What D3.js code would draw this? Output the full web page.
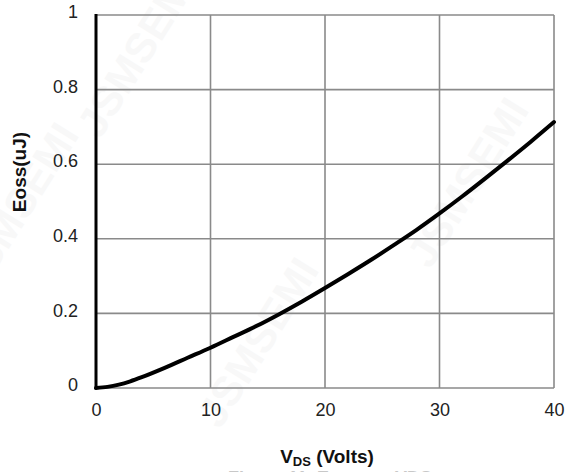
<!DOCTYPE html>
<meta charset="utf-8">
<head>
  <style>
    body { margin: 0; background: #fff; font-family: "Liberation Sans", Arial, sans-serif; }
    .tick text { font-size: 18px; fill: #222; }
    .axis-title { font-weight: bold; font-size: 19px; fill: #111; }
    .mark { font-size: 42px; font-weight: bold; fill: #000; opacity: 0.022; }
  </style>
  <script src="https://cdn.jsdelivr.net/npm/d3@7"></script>
</head>
<body>
  <div id="viz"></div>
</body>
<script>
// Eoss curve
var vds  = [0, 1, 2, 3, 4, 6, 8, 10, 12, 14, 16, 18, 20, 22, 24, 26, 28, 30, 32, 34, 36, 38, 40];
var eoss = [0, 0.003, 0.009, 0.018, 0.029, 0.054, 0.081, 0.108, 0.137, 0.166, 0.198, 0.232, 0.268,
            0.305, 0.343, 0.383, 0.424, 0.468, 0.514, 0.562, 0.611, 0.661, 0.713];
var xTicks = [0, 10, 20, 30, 40];
var yTicks = [0, 0.2, 0.4, 0.6, 0.8, 1];

var W = 565, H = 472;
var pLeft = 96, pRight = 554, pTop = 15, pBottom = 388;

var svg = d3.select("#viz").append("svg")
    .attr("width", W)
    .attr("height", H);

var x = d3.scaleLinear().domain([0, 40]).range([pLeft, pRight]);
var y = d3.scaleLinear().domain([0, 1]).range([pBottom, pTop]);

/* watermark */
[[270, 350], [480, 190], [150, 60], [30, 215]].forEach(function(p) {
  svg.append("text")
    .attr("class", "mark")
    .attr("text-anchor", "middle")
    .attr("transform", "translate(" + p[0] + "," + p[1] + ") rotate(-58)")
    .text("JSMSEMI");
});

/* grid */
svg.selectAll(".vgrid")
  .data(xTicks)
  .enter()
  .append("line")
    .attr("x1", x).attr("x2", x)
    .attr("y1", pTop).attr("y2", pBottom)
    .attr("stroke", "#8a8a8a")
    .attr("stroke-width", 1.6);

svg.selectAll(".hgrid")
  .data(yTicks)
  .enter()
  .append("line")
    .attr("x1", pLeft).attr("x2", pRight)
    .attr("y1", y).attr("y2", y)
    .attr("stroke", "#8a8a8a")
    .attr("stroke-width", 1.6);

/* axes (labels only) */
var xAxis = svg.append("g")
    .attr("transform", "translate(0," + pBottom + ")")
    .call(d3.axisBottom(x).tickValues(xTicks).tickSize(0).tickPadding(15).tickFormat(d3.format("d")));
xAxis.select(".domain").remove();

var yAxis = svg.append("g")
    .attr("transform", "translate(" + pLeft + ",0)")
    .call(d3.axisLeft(y).tickValues(yTicks).tickSize(0).tickPadding(18)
      .tickFormat(function(d) { return d === 0 || d === 1 ? d : d3.format(".1f")(d); }));
yAxis.select(".domain").remove();
yAxis.selectAll("text").attr("dy", "0.15em");

/* thick left axis */
svg.append("line")
  .attr("x1", pLeft).attr("x2", pLeft)
  .attr("y1", pTop - 1).attr("y2", pBottom + 1)
  .attr("stroke", "#000")
  .attr("stroke-width", 3);

/* curve */
var line = d3.line()
  .x(function(d, i) { return x(vds[i]); })
  .y(function(d, i) { return y(eoss[i]); })
  .curve(d3.curveMonotoneX);

svg.append("path")
  .datum(vds)
  .attr("d", line)
  .attr("fill", "none")
  .attr("stroke", "#000")
  .attr("stroke-width", 4)
  .attr("stroke-linecap", "round");

/* titles */
svg.append("text")
  .attr("class", "axis-title")
  .attr("text-anchor", "middle")
  .attr("transform", "translate(26,172) rotate(-90)")
  .text("Eoss(uJ)");

var xt = svg.append("text")
  .attr("class", "axis-title")
  .attr("x", 327)
  .attr("y", 463)
  .attr("text-anchor", "middle");
xt.append("tspan").text("V");
xt.append("tspan").attr("font-size", "13px").attr("dy", 3).text("DS");
xt.append("tspan").attr("dy", -3).text(" (Volts)");

/* figure caption, cut off by the bottom edge */
svg.append("text")
  .attr("x", 330)
  .attr("y", 484)
  .attr("text-anchor", "middle")
  .attr("font-size", "18px")
  .attr("font-weight", "bold")
  .attr("fill", "#c8c8c8")
  .text("Figure 11. Eoss vs. VDS");
</script>
